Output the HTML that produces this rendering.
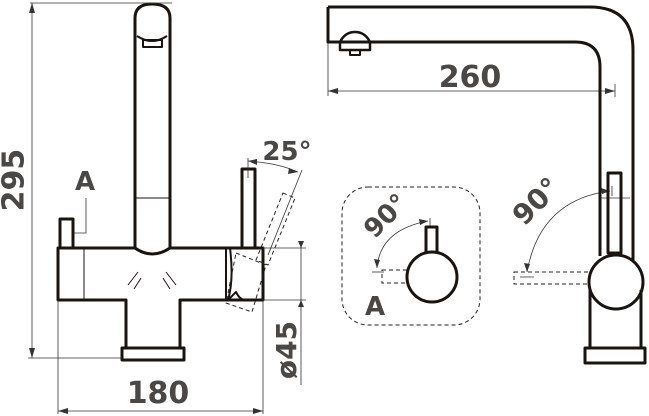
<!DOCTYPE html>
<html><head><style>
html,body{margin:0;padding:0;background:#fff;}
svg{display:block;}
text{font-family:"DejaVu Sans","Liberation Sans",sans-serif;fill:#4a4745;font-weight:bold;}
</style></head><body>
<svg width="649" height="416" viewBox="0 0 649 416" xmlns="http://www.w3.org/2000/svg">
<g fill="none" stroke="#1a1411" stroke-width="3" stroke-linejoin="round">
 <!-- left view -->
 <path d="M135 248 V18 Q135 4 152 4 Q170 4 170 18 V248"/>
 <path d="M137 36 Q152 46 167 36" stroke-width="2"/>
 <rect x="143" y="40" width="19" height="7" stroke-width="2"/>
 <path d="M58 248 H135 Q152 260 170 248 H263 V300 H180 V348 H126 V300 H58 Z"/>
 <rect x="122" y="348" width="62" height="12"/>
 <rect x="60" y="219" width="13" height="29"/>
 <rect x="242" y="169" width="13" height="79"/>
 <path d="M226 248 V300 M230 248 Q234 280 228 300 L236 292 Q240 300 245 300" stroke-width="2"/>
</g>
<g fill="none" stroke="#1a1411" stroke-width="1">
 <line x1="84" y1="248" x2="84" y2="300"/>
 <line x1="136" y1="198" x2="169" y2="198"/>
 <path d="M128 285 L138 272 M134 289 L141 278 M176 285 L166 272 M170 289 L163 278"/>
</g>
<g fill="none" stroke="#222" stroke-width="1" stroke-dasharray="4,3">
 <path d="M283 193 L295 198 L268 265 L256 260 Z"/>
 <path d="M236 253 L266 265 L252 312 L226 303 Z"/>
 <!-- right view dashed handle -->
 <rect x="514" y="272" width="76" height="12"/>
 <rect x="382" y="270" width="26" height="13"/>
 <rect x="342" y="187" width="138" height="138" rx="26"/>
</g>
<g fill="none" stroke="#333" stroke-width="0.8">
 <!-- 295 dim -->
 <line x1="32" y1="3" x2="32" y2="358"/>
 <line x1="30" y1="3" x2="172" y2="3"/>
 <line x1="28" y1="358" x2="122" y2="358"/>
 <!-- A leader -->
 <path d="M86 198 V233 H74"/>
 <!-- 180 dim -->
 <line x1="58" y1="300" x2="58" y2="414"/>
 <line x1="263" y1="300" x2="263" y2="414"/>
 <line x1="58" y1="411" x2="263" y2="411"/>
 <!-- 45 dim -->
 <line x1="263" y1="248" x2="306" y2="248"/>
 <line x1="263" y1="300" x2="306" y2="300"/>
 <line x1="301" y1="241" x2="301" y2="385"/>
 <!-- 25 deg -->
 <line x1="248" y1="158" x2="248" y2="178"/>
 <line x1="302" y1="170" x2="268" y2="255"/>
 <path d="M248 161 Q278 163 298 172"/>
 <!-- 260 dim -->
 <line x1="328" y1="42" x2="328" y2="96"/>
 <line x1="615" y1="84" x2="615" y2="97"/>
 <line x1="328" y1="91" x2="615" y2="91"/>
 <!-- right 90 arc -->
 <path d="M610 191 Q540 200 527 272"/>
 <line x1="600" y1="198" x2="630" y2="198"/>
 <line x1="612" y1="186" x2="612" y2="196"/>
 <line x1="520" y1="277" x2="534" y2="277"/>
 <!-- detail 90 arc -->
 <path d="M428 221 Q380 230 377 268"/>
 <line x1="430" y1="218" x2="430" y2="226"/>
 <line x1="372" y1="272" x2="384" y2="272"/>
</g>
<g fill="#333">
 <path d="M32 3 l-3 10 h6 Z M32 358 l-3 -10 h6 Z"/>
 <path d="M58 411 l10 -3 v6 Z M263 411 l-10 -3 v6 Z"/>
 <path d="M301 248 l-3 -7 h6 Z M301 300 l-3 7 h6 Z"/>
 <path d="M328 91 l10 -3 v6 Z M615 91 l-10 -3 v6 Z"/>
 <path d="M610 191 l-9 -3 l1 6 Z M527 272 l-3 -9 l6 1 Z"/>
 <path d="M428 221 l-9 -2 l1 6 Z M377 268 l-3 -9 l6 1 Z"/>
 <path d="M248 161 l9 -2 v6 Z M298 172 l-9 -4 l-1 6 Z"/>
</g>
<g fill="none" stroke="#1a1411" stroke-width="3" stroke-linejoin="round">
 <!-- right view spout -->
 <path d="M328 7 H590 Q633 7 633 50 V282 M328 7 V42 H575 Q600 42 600 67 V256"/>
 <path d="M340 42 Q345 32 355 32 Q365 32 370 42 V50 H340 Z" stroke-width="2.5"/>
 <rect x="350" y="50" width="10" height="5" stroke-width="2"/>
 <rect x="608" y="173" width="13" height="80"/>
 <circle cx="616" cy="282" r="27" fill="#fff"/>
 <path d="M590 290 V348 H641 V290"/>
 <rect x="585" y="348" width="60" height="15"/>
 <!-- detail -->
 <rect x="426" y="227" width="11" height="26"/>
 <circle cx="432" cy="277" r="25" fill="#fff"/>
</g>
<text x="15" y="180" font-size="30" text-anchor="middle" transform="rotate(-90 15 180)" dominant-baseline="middle">295</text>
<text x="85" y="190" font-size="26" text-anchor="middle">A</text>
<text x="158" y="403" font-size="30" text-anchor="middle">180</text>
<text x="287" y="160" font-size="26" text-anchor="middle">25°</text>
<text x="288" y="350" font-size="28" text-anchor="middle" transform="rotate(-90 288 350)" dominant-baseline="middle">ø45</text>
<text x="470" y="87" font-size="30" text-anchor="middle">260</text>
<text x="543" y="208" font-size="28" text-anchor="middle" transform="rotate(-45 543 208)">90°</text>
<text x="392" y="222" font-size="26" text-anchor="middle" transform="rotate(-45 392 222)">90°</text>
<text x="375" y="315" font-size="26" text-anchor="middle">A</text>
</svg>
</body></html>
